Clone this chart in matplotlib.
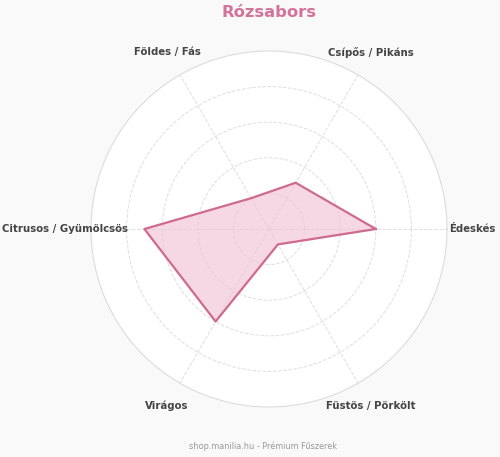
import numpy as np
import matplotlib
matplotlib.use("Agg")
import matplotlib.pyplot as plt

# flavour profile data
categories = ["Édeskés", "Csípős / Pikáns", "Földes / Fás",
              "Citrusos / Gyümölcsös", "Virágos", "Füstös / Pörkölt"]
values = [6, 3, 2, 7, 6, 1]
title = "Rózsabors"
footer = "shop.manilia.hu - Prémium Fűszerek"

line_col = "#cf6b8f"
fill_col = "#f0c4d4"

fig = plt.figure(figsize=(5, 4.57), dpi=100)
fig.patch.set_facecolor("#f9f9f9")
ax = fig.add_axes([0.182, 0.1094, 0.712, 0.779], projection="polar")
ax.set_facecolor("white")

n = len(categories)
angles = np.linspace(0, 2 * np.pi, n, endpoint=False)
a_closed = np.append(angles, angles[0])
v_closed = np.append(values, values[0])

ax.fill(a_closed, v_closed, color=fill_col, alpha=0.65, zorder=2)
ax.plot(a_closed, v_closed, color=line_col, linewidth=1.6, zorder=3)

ax.set_ylim(0, 10)
ax.set_yticks([2, 4, 6, 8])
ax.set_yticklabels([])
ax.set_xticks(angles)
ax.set_xticklabels([])
ax.tick_params(length=0)
ax.grid(True, color="#dedede", linestyle="--", linewidth=0.7)
ax.spines["polar"].set_color("#dcdcdc")
ax.spines["polar"].set_linewidth(0.8)

# labels around the outside
for ang, lab in zip(angles, categories):
    ax.text(ang, 11.45, lab, ha="center", va="center", fontsize=7.3,
            fontweight="bold", color="#444444", clip_on=False)

fig.text(0.538, 0.972, title, ha="center", va="center", fontsize=11.8,
         fontweight="bold", color="#d4739a")
fig.text(0.526, 0.024, footer, ha="center", va="center", fontsize=5.9,
         color="#999999")

fig.savefig("out.png", dpi=100, facecolor=fig.get_facecolor())
